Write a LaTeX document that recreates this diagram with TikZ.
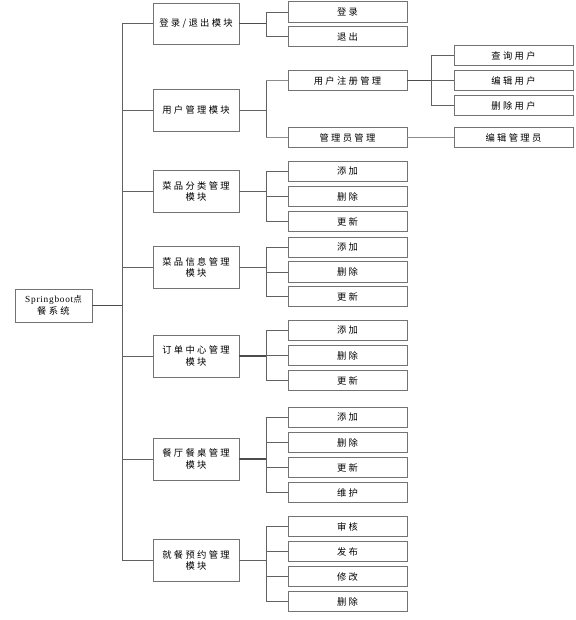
\documentclass[tikz,border=0pt]{standalone}
\usepackage{fontspec}
\setmainfont{Liberation Serif}
\newfontfamily\cjk[LetterSpace=25]{Noto Sans CJK SC}
\newfontfamily\lat[LetterSpace=8]{Liberation Serif}
\begin{document}
\begin{tikzpicture}[x=1bp,y=-1bp,
  box/.style={draw=black!55,line width=0.9bp,fill=white,inner sep=1bp,
    align=center,font=\cjk\fontsize{9.3bp}{11.5bp}\selectfont},
  modbox/.style={box,minimum width=86bp,minimum height=42bp},
  leafbox/.style={box,minimum width=119bp,minimum height=20.5bp},
  rootbox/.style={box,minimum width=77bp,minimum height=33bp},
  conn/.style={draw=black!62,line width=0.8bp},
  connb/.style={draw=black!70,line width=1.4bp},
  connl/.style={draw=black!45,line width=1.1bp}]
\useasboundingbox (0,0) rectangle (576,620);
% coordinates for trunk and branch lines
\coordinate (tx) at (122,0);
\coordinate (bx) at (266,0);
\coordinate (rx) at (431,0);
% root
\node[rootbox] (root) at (53.5,305.5) {{\lat\fontsize{9.3bp}{11.5bp}\selectfont Springboot}{\fontsize{8.5bp}{11.5bp}\selectfont 点}\\餐系统};
% modules
\node[modbox,minimum height=41bp] (m1) at (196,23.5) {登录/退出模块};
\node[modbox] (m2) at (196,110) {用户管理模块};
\node[modbox] (m3) at (196,191.5) {菜品分类管理\\模块};
\node[modbox] (m4) at (196,267.5) {菜品信息管理\\模块};
\node[modbox] (m5) at (196,356) {订单中心管理\\模块};
\node[modbox] (m6) at (196,459) {餐厅餐桌管理\\模块};
\node[modbox] (m7) at (196,560.5) {就餐预约管理\\模块};
% leaves
\node[leafbox] (a1) at (347.5,12) {登录};
\node[leafbox] (a2) at (347.5,36.5) {退出};
\node[leafbox] (b1) at (347.5,80.5) {用户注册管理};
\node[leafbox] (b2) at (347.5,137.5) {管理员管理};
\node[leafbox] (c1) at (347.5,171.5) {添加};
\node[leafbox] (c2) at (347.5,196.5) {删除};
\node[leafbox] (c3) at (347.5,221.5) {更新};
\node[leafbox] (d1) at (347.5,247.5) {添加};
\node[leafbox] (d2) at (347.5,272) {删除};
\node[leafbox] (d3) at (347.5,296.5) {更新};
\node[leafbox] (e1) at (347.5,330.5) {添加};
\node[leafbox] (e2) at (347.5,355.5) {删除};
\node[leafbox] (e3) at (347.5,380.5) {更新};
\node[leafbox] (f1) at (347.5,417.5) {添加};
\node[leafbox] (f2) at (347.5,442.5) {删除};
\node[leafbox] (f3) at (347.5,467.5) {更新};
\node[leafbox] (f4) at (347.5,492.5) {维护};
\node[leafbox] (g1) at (347.5,526.5) {审核};
\node[leafbox] (g2) at (347.5,551.5) {发布};
\node[leafbox] (g3) at (347.5,576.5) {修改};
\node[leafbox] (g4) at (347.5,601.5) {删除};
% third level
\node[leafbox] (u1) at (513.5,55.5) {查询用户};
\node[leafbox] (u2) at (513.5,80.5) {编辑用户};
\node[leafbox] (u3) at (513.5,105.5) {删除用户};
\node[leafbox] (v1) at (513.5,137.5) {编辑管理员};
% trunk
\draw[connb] (root.east) -- (root.east -| tx);
\draw[conn] (m1.west -| tx) -- (m7.west -| tx);
\foreach \m in {m1,m2,m3,m4,m5,m6,m7}
  \draw[conn] (\m.west -| tx) -- (\m.west);
% module branches
\draw[connb] (m1.east) -- (m1.east -| bx);
\draw[conn] (a1.west -| bx) -- (a2.west -| bx);
\foreach \l in {a1,a2} \draw[conn] (\l.west -| bx) -- (\l.west);
\draw[conn] (m2.east) -- (m2.east -| bx);
\draw[conn] (b1.west -| bx) -- (b2.west -| bx);
\foreach \l in {b1,b2} \draw[connl] (\l.west -| bx) -- (\l.west);
\draw[conn] (m3.east) -- (m3.east -| bx);
\draw[conn] (c1.west -| bx) -- (c3.west -| bx);
\foreach \l in {c1,c2,c3} \draw[conn] (\l.west -| bx) -- (\l.west);
\draw[conn] (m4.east) -- (m4.east -| bx);
\draw[conn] (d1.west -| bx) -- (d3.west -| bx);
\foreach \l in {d1,d2,d3} \draw[conn] (\l.west -| bx) -- (\l.west);
\draw[connb] (m5.east) -- (m5.east -| bx);
\draw[conn] (e1.west -| bx) -- (e3.west -| bx);
\foreach \l in {e1,e2,e3} \draw[conn] (\l.west -| bx) -- (\l.west);
\draw[connb] (m6.east) -- (m6.east -| bx);
\draw[conn] (f1.west -| bx) -- (f4.west -| bx);
\foreach \l in {f1,f2,f3,f4} \draw[conn] (\l.west -| bx) -- (\l.west);
\draw[conn] (m7.east) -- (m7.east -| bx);
\draw[conn] (g1.west -| bx) -- (g4.west -| bx);
\foreach \l in {g1,g2,g3,g4} \draw[conn] (\l.west -| bx) -- (\l.west);
% third level branches
\draw[connb] (b1.east) -- (b1.east -| rx);
\draw[conn] (u1.west -| rx) -- (u3.west -| rx);
\foreach \l in {u1,u2,u3} \draw[conn] (\l.west -| rx) -- (\l.west);
\draw[connl] (b2.east) -- (v1.west);
\end{tikzpicture}
\end{document}
